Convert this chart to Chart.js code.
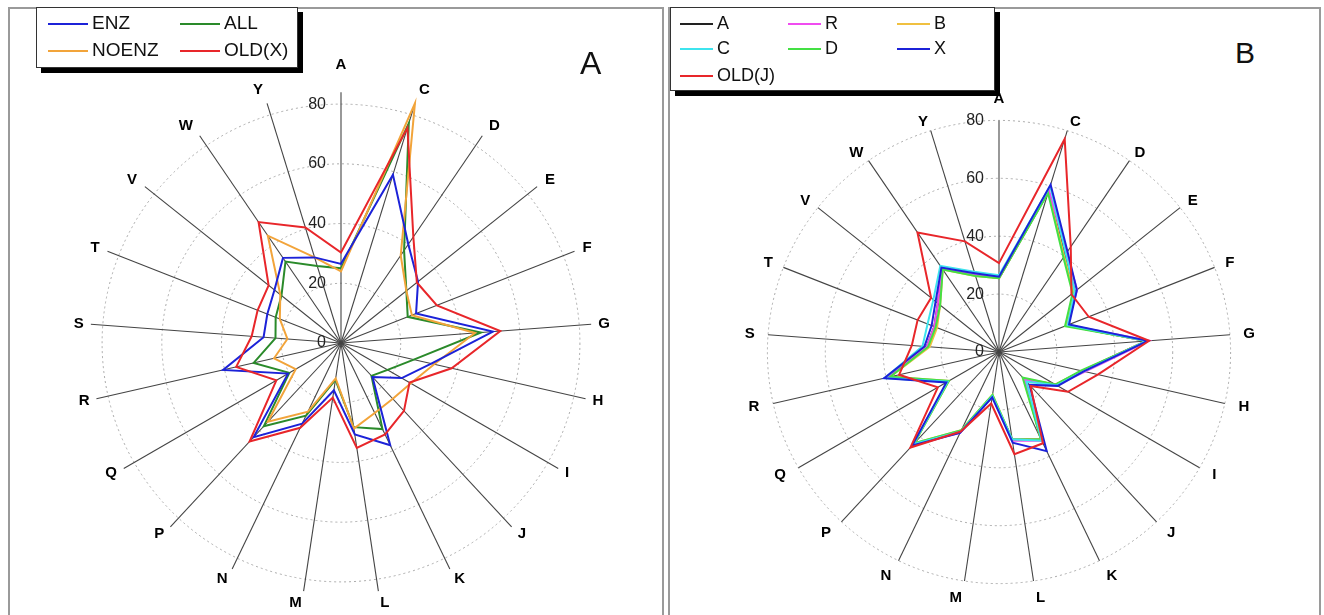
<!DOCTYPE html>
<html><head><meta charset="utf-8">
<script src="https://cdn.jsdelivr.net/npm/chart.js@4/dist/chart.umd.min.js"></script>
<style>
html,body{margin:0;padding:0;width:1324px;height:615px;overflow:hidden;background:#fff;font-family:"Liberation Sans",Arial,sans-serif;}
.panel{position:absolute;border:2px solid #9a9a9a;box-sizing:border-box;}
canvas{position:absolute;}
.legend{position:absolute;background:#fff;border:1px solid #333;box-shadow:5px 5px 0 #000;box-sizing:border-box;}
.item{position:absolute;line-height:20px;color:#111;white-space:nowrap;}
.item .sw{display:inline-block;border-top:2px solid;vertical-align:middle;margin-right:4px;}
.title{position:absolute;line-height:1;color:#111;}
</style></head>
<body>
<div class="panel" style="left:8px;top:7px;width:656px;height:640px;"></div>
<div class="panel" style="left:668px;top:7px;width:653px;height:640px;"></div>
<canvas id="chartA" width="556" height="556" style="left:64px;top:56px;"></canvas>
<canvas id="chartB" width="512" height="512" style="left:744px;top:93px;"></canvas>
<div class="legend" id="legA" style="left:36px;top:7px;width:262px;height:61px;"></div>
<div class="legend" id="legB" style="left:670px;top:7px;width:325px;height:84px;"></div>
<div class="title" style="left:580px;top:47px;font-size:32px;">A</div>
<div class="title" style="left:1235px;top:38px;font-size:30px;">B</div>
<script>
// ---------- data ----------
const categories = ['A','C','D','E','F','G','H','I','J','K','L','M','N','P','Q','R','S','T','V','W','Y'];
const tickValues = [0,20,40,60,80];

// Panel A
const legendA = ['ENZ','ALL','NOENZ','OLD(X)'];
const enz   = [26.5,59,40,33,27,51,31,23.5,15.5,38,31,16,30,43,20.5,40.5,26,26.5,28.5,34.5,30];
const all   = [25,77,37.5,28,24,47,25,18,15,32,28.5,12.5,27,38,20,30,22,23.5,25.5,33,27];
const noenz = [24,84,35.5,28,25.5,45,32,27,25.5,26,29,12,25.5,36,17.5,23,18,22,26,43.5,30];
const oldX  = [30.3,75.5,43,32.5,34.5,53.5,38,26.5,31,34,35.5,18.5,31.5,45,25,36,30,30,31,49,40.5];

// Panel B
const legendB = ['A','R','B','C','D','X','OLD(J)'];
const serA = [25.5,58,40.5,33.5,25,51,29.5,22.5,13,33.5,30.5,15.5,30.5,43.5,20.5,39,25,24,27,35,28];
const serR = [26,58.5,41.5,34.5,25.5,52,30.5,23,13,34,31,15.5,31,43.5,20.5,39,25,24,27,35,28];
const serB = [25.5,58,40,33,25,51,29.5,22.5,12.5,33.5,30.5,15,30,43,20,38.5,24,23,26,34.5,27.5];
const serC = [26.5,60,41,33.5,25.5,51,30,23,14,34,30.5,15.5,30.5,43.5,20.5,40.5,26.5,26.5,29,36,29];
const serD = [25.5,57.5,39.5,32.5,24.5,51.5,29,22.5,12,33.5,30.5,15,30,43,20,38.5,24.5,23.5,26,34.5,27.5];
const serX = [26,60.5,42,34.4,26,51.5,30,23.4,15.5,38,31.7,15.8,31,44,21,40.7,25.8,25,28,35.3,28.5];
const oldJ = [30.7,77,44,32,33.3,52,35,27.5,16,35,35.7,18,30.5,45,24.4,35.4,30.2,30.2,30,50,40];

// ---------- styles ----------
const colorsA = ['#1c22d8','#2a8a2a','#f2a43a','#e8262a'];
const colorsB = ['#222222','#f04cf0','#f0c040','#3ee4ee','#44e044','#1c22d8','#e8262a'];

const tickLabelPlugin = {
  id:'tickLabels',
  afterDatasetsDraw(chart, args, opts){
    const s = chart.scales.r, ctx = chart.ctx;
    ctx.save();
    ctx.font = '16px "Liberation Sans", Arial, sans-serif';
    ctx.fillStyle = '#222';
    ctx.textAlign = 'right';
    ctx.textBaseline = 'middle';
    for (const v of opts.values) {
      const d = s.getDistanceFromCenterForValue(v);
      ctx.fillText(String(v), s.xCenter - opts.gap, s.yCenter - d);
    }
    ctx.restore();
  }
};

function makeChart(id, datasets, max, padTop, padV, padK, padUp) {
  const n = categories.length;
  return new Chart(document.getElementById(id), {
    type:'radar',
    data:{labels:categories, datasets},
    options:{
      responsive:false, animation:false, devicePixelRatio:1,
      plugins:{legend:{display:false}, tooltip:{enabled:false}, tickLabels:{values:tickValues, gap:15}},
      layout:{padding:0},
      elements:{line:{borderWidth:2, tension:0, fill:false}, point:{radius:0, hoverRadius:0}},
      scales:{r:{
        min:0, max:max,
        ticks:{display:false, stepSize:20},
        grid:{circular:true, lineWidth:1, color:(c)=> (c.tick && c.tick.value > 80.5) ? 'rgba(0,0,0,0)' : '#aaaaaa'},
        border:{dash:[2,3]},
        angleLines:{color:'#444444', lineWidth:1.1},
        pointLabels:{font:{family:'"Liberation Sans", Arial, sans-serif', size:15, weight:'bold', lineHeight:0.01}, color:'#000',
          padding:(c)=> {
            if (c.index === 0) return padTop;
            const a = 2 * Math.PI * c.index / n;
            return padV - padK * Math.abs(Math.sin(a)) - padUp * Math.max(Math.cos(a), 0);
          }}
      }}
    },
    plugins:[tickLabelPlugin]
  });
}

function ds(label, data, color, order){ return {label, data, borderColor:color, backgroundColor:color, fill:false, order}; }

makeChart('chartA', [
  ds(legendA[0], enz, colorsA[0], 1),
  ds(legendA[1], all, colorsA[1], 3),
  ds(legendA[2], noenz, colorsA[2], 2),
  ds(legendA[3], oldX, colorsA[3], 0)
], 84, 27, 13, 6, -3);

makeChart('chartB', [
  ds(legendB[0], serA, colorsB[0], 6),
  ds(legendB[1], serR, colorsB[1], 4),
  ds(legendB[2], serB, colorsB[2], 5),
  ds(legendB[3], serC, colorsB[3], 2),
  ds(legendB[4], serD, colorsB[4], 3),
  ds(legendB[5], serX, colorsB[5], 1),
  ds(legendB[6], oldJ, colorsB[6], 0)
], 80, 21, 18, 4, 8);

// ---------- legends ----------
function buildLegend(elId, names, colors, cols, xs, ys, swW, boxLeft, boxTop, fontPx) {
  const el = document.getElementById(elId);
  names.forEach((n, i) => {
    const d = document.createElement('div');
    d.className = 'item';
    d.style.fontSize = fontPx + 'px';
    d.style.left = (xs[i % cols] - boxLeft - 1) + 'px';
    d.style.top = (ys[Math.floor(i / cols)] - boxTop - 1 - 10) + 'px';
    const sw = document.createElement('span');
    sw.className = 'sw';
    sw.style.width = swW + 'px';
    sw.style.borderTopColor = colors[i];
    d.appendChild(sw);
    d.appendChild(document.createTextNode(n));
    el.appendChild(d);
  });
}
buildLegend('legA', legendA, colorsA, 2, [48,180], [23,50], 40, 36, 7, 19);
buildLegend('legB', legendB, colorsB, 3, [680,788,897], [23,48,75], 33, 670, 7, 18);
</script>
</body></html>
